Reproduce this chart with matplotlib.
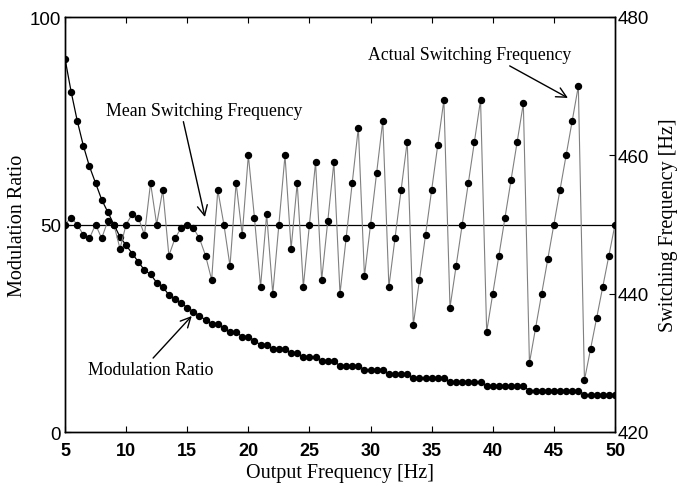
import matplotlib
matplotlib.use("Agg")
import matplotlib.pyplot as plt

freq = [5, 5.5, 6, 6.5, 7, 7.5, 8, 8.5, 9, 9.5,
        10, 10.5, 11, 11.5, 12, 12.5, 13, 13.5, 14, 14.5,
        15, 15.5, 16, 16.5, 17, 17.5, 18, 18.5, 19, 19.5,
        20, 20.5, 21, 21.5, 22, 22.5, 23, 23.5, 24, 24.5,
        25, 25.5, 26, 26.5, 27, 27.5, 28, 28.5, 29, 29.5,
        30, 30.5, 31, 31.5, 32, 32.5, 33, 33.5, 34, 34.5,
        35, 35.5, 36, 36.5, 37, 37.5, 38, 38.5, 39, 39.5,
        40, 40.5, 41, 41.5, 42, 42.5, 43, 43.5, 44, 44.5,
        45, 45.5, 46, 46.5, 47, 47.5, 48, 48.5, 49, 49.5,
        50]

mod_ratio = [90, 82, 75, 69, 64, 60, 56, 53, 50, 47,
             45, 43, 41, 39, 38, 36, 35, 33, 32, 31,
             30, 29, 28, 27, 26, 26, 25, 24, 24, 23,
             23, 22, 21, 21, 20, 20, 20, 19, 19, 18,
             18, 18, 17, 17, 17, 16, 16, 16, 16, 15,
             15, 15, 15, 14, 14, 14, 14, 13, 13, 13,
             13, 13, 13, 12, 12, 12, 12, 12, 12, 11,
             11, 11, 11, 11, 11, 11, 10, 10, 10, 10,
             10, 10, 10, 10, 10, 9, 9, 9, 9, 9,
             9]

sw_freq = [450, 451, 450, 448.5, 448, 450, 448, 450.5, 450, 446.5,
           450, 451.5, 451, 448.5, 456, 450, 455, 445.5, 448, 449.5,
           450, 449.5, 448, 445.5, 442, 455, 450, 444, 456, 448.5,
           460, 451, 441, 451.5, 440, 450, 460, 446.5, 456, 441,
           450, 459, 442, 450.5, 459, 440, 448, 456, 464, 442.5,
           450, 457.5, 465, 441, 448, 455, 462, 435.5, 442, 448.5,
           455, 461.5, 468, 438, 444, 450, 456, 462, 468, 434.5,
           440, 445.5, 451, 456.5, 462, 467.5, 430, 435, 440, 445,
           450, 455, 460, 465, 470, 427.5, 432, 436.5, 441, 445.5,
           450]

mean_sw = 450
x_ticks = [5, 10, 15, 20, 25, 30, 35, 40, 45, 50]
left_ticks = [0, 50, 100]
right_ticks = [420, 440, 460, 480]

serif = "Liberation Serif"
sans = "Liberation Sans"

fig = plt.figure(figsize=(6.77, 4.85), dpi=100)
ax = fig.add_axes([65/677, 1-433/485, 550/677, 415/485])
ax2 = ax.twinx()

ax.plot(freq, mod_ratio, color="black", lw=0.9, marker="o", ms=4.3,
        mfc="black", mec="black", zorder=3)
ax2.plot(freq, sw_freq, color="#808080", lw=0.8, marker="o", ms=4.3,
         mfc="black", mec="black", zorder=3)
ax2.axhline(mean_sw, color="black", lw=0.9, zorder=2)

ax.set_xlim(5, 50)
ax.set_ylim(0, 100)
ax2.set_ylim(420, 480)
ax.set_xticks(x_ticks)
ax.set_yticks(left_ticks)
ax2.set_yticks(right_ticks)

for a in (ax, ax2):
    for sp in a.spines.values():
        sp.set_linewidth(1.0)
ax.tick_params(direction="in", length=4, width=0.8, top=True, right=False,
               labelsize=13.5, pad=3)
ax.tick_params(axis="x", pad=7, labelsize=13)
ax2.tick_params(direction="in", length=4, width=0.8, labelsize=13.5, pad=2)
for lab in ax.get_yticklabels() + ax2.get_yticklabels():
    lab.set_fontfamily(sans)
for lab in ax.get_xticklabels():
    lab.set_fontfamily(sans)
    lab.set_fontweight("bold")

xl = ax.set_xlabel("Output Frequency [Hz]", fontfamily=serif, fontsize=14.5)
ax.xaxis.set_label_coords(0.5, (433-474)/415)
xl.set_va("center")
yl = ax.set_ylabel("Modulation Ratio", fontfamily=serif, fontsize=14.5)
ax.yaxis.set_label_coords((18-65)/550, 0.5)
yl.set_va("center"); yl.set_ha("center")
yr = ax2.set_ylabel("Switching Frequency [Hz]", fontfamily=serif, fontsize=14.5)
ax2.yaxis.set_label_coords((668-65)/550, 0.5)
yr.set_va("center"); yr.set_ha("center")

arrow = dict(arrowstyle="->", color="black", lw=1.0, mutation_scale=18,
             shrinkA=0, shrinkB=0)

ax.annotate("Mean Switching Frequency", xy=(16.45, 51.8), xytext=(16.37, 77.5),
            ha="center", va="center", fontfamily=serif, fontsize=12.8,
            arrowprops=dict(arrow, relpos=(0.39, 0.1)), zorder=5)
ax2.annotate("Actual Switching Frequency", xy=(46.15, 468.3), xytext=(38.14, 474.56),
             ha="center", va="center", fontfamily=serif, fontsize=12.8,
             arrowprops=dict(arrow, relpos=(0.655, 0.1)), zorder=5)
ax.annotate("Modulation Ratio", xy=(15.37, 27.95), xytext=(12.0, 15.1),
            ha="center", va="center", fontfamily=serif, fontsize=12.8,
            arrowprops=dict(arrow, relpos=(0.5, 1.0)), zorder=5)

fig.savefig("out.png", dpi=100)
